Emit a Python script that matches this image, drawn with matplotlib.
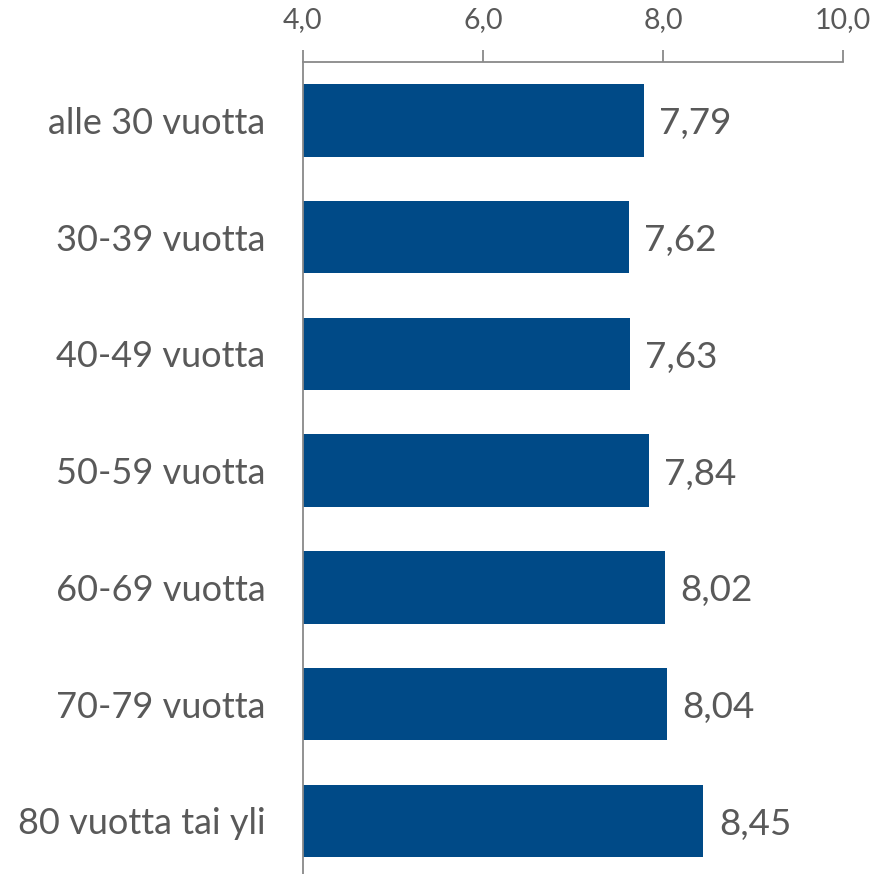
import matplotlib
matplotlib.use('Agg')
import matplotlib.pyplot as plt

categories = ['alle 30 vuotta', '30-39 vuotta', '40-49 vuotta', '50-59 vuotta',
              '60-69 vuotta', '70-79 vuotta', '80 vuotta tai yli']
values = [7.79, 7.62, 7.63, 7.84, 8.02, 8.04, 8.45]
xticks = [4.0, 6.0, 8.0, 10.0]

plt.rcParams['font.family'] = ['Lato', 'DejaVu Sans']
textcol = '#595959'
barcol = '#004A87'

fig = plt.figure(figsize=(8.79, 8.74), dpi=100)
ax = fig.add_axes([0.3447, -0.006, 0.6143, 0.935])

ypos = list(range(len(categories)))
ax.barh(ypos, [v - 4.0 for v in values], left=4.0, height=0.62, color=barcol)
ax.set_xlim(4.0, 10.0)
ax.set_ylim(len(categories) - 0.5, -0.5)

for y, v in zip(ypos, values):
    ax.text(v + 0.17, y + 0.03, ('%.2f' % v).replace('.', ','), va='center', ha='left',
            fontsize=26.5, color=textcol)

ax.set_yticks(ypos)
ax.set_yticklabels(categories, fontsize=26, color=textcol)
ax.tick_params(axis='y', length=0, pad=27)

ax.xaxis.tick_top()
ax.set_xticks(xticks)
ax.set_xticklabels([('%.1f' % t).replace('.', ',') for t in xticks], fontsize=20.5, color=textcol)
ax.tick_params(axis='x', length=9, width=1.3, color='#898989', pad=12)

for s in ['right', 'bottom']:
    ax.spines[s].set_visible(False)
for s in ['top', 'left']:
    ax.spines[s].set_color('#898989')
    ax.spines[s].set_linewidth(1.3)

fig.savefig('out.png', dpi=100)
